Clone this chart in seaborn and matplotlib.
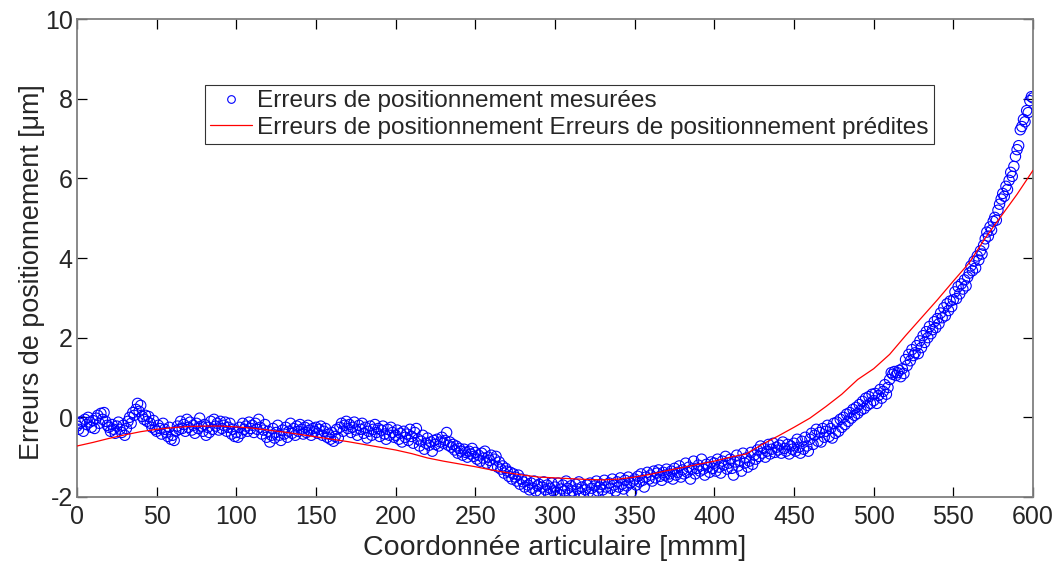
import numpy as np
import pandas as pd
import matplotlib
matplotlib.use("Agg")
import matplotlib.pyplot as plt
import seaborn as sns
from matplotlib.lines import Line2D

# ---- data -------------------------------------------------------------
x_mes_start, x_mes_step = 0, 1  # coordinate of measured points [mm]
y_mes_000 = [-0.22, -0.30, -0.15, -0.10, -0.35, -0.05, -0.18, 0.00, -0.12, -0.25,
             -0.08, -0.28, -0.02, 0.05, -0.15, 0.10, -0.05, 0.12, -0.10, -0.20,
             -0.25, -0.35, -0.18, -0.30, -0.40, -0.22, -0.12, -0.30, -0.38, -0.20,
             -0.45, -0.28, -0.10, 0.00, -0.15, 0.12, 0.05, 0.20, 0.35, 0.15,
             0.30, 0.02, -0.05, 0.05, -0.10, 0.02, -0.15, -0.25, -0.08, -0.30]
y_mes_050 = [-0.35, -0.20, -0.28, -0.42, -0.15, -0.30, -0.38, -0.48, -0.25, -0.55,
             -0.45, -0.58, -0.35, -0.22, -0.30, -0.10, -0.28, -0.18, -0.35, -0.05,
             -0.25, -0.12, -0.32, -0.20, -0.40, -0.15, -0.28, -0.02, -0.22, -0.35,
             -0.18, -0.45, -0.25, -0.38, -0.10, -0.30, -0.05, -0.22, -0.15, -0.32,
             -0.10, -0.28, -0.20, -0.12, -0.35, -0.25, -0.15, -0.42, -0.30, -0.48]
y_mes_100 = [-0.38, -0.50, -0.25, -0.40, -0.15, -0.30, -0.22, -0.35, -0.12, -0.28,
             -0.20, -0.38, -0.15, -0.30, -0.05, -0.25, -0.42, -0.32, -0.18, -0.50,
             -0.35, -0.62, -0.45, -0.28, -0.52, -0.38, -0.20, -0.45, -0.58, -0.32,
             -0.42, -0.25, -0.50, -0.35, -0.15, -0.40, -0.28, -0.45, -0.22, -0.35,
             -0.18, -0.30, -0.42, -0.25, -0.38, -0.20, -0.32, -0.45, -0.28, -0.35]
y_mes_150 = [-0.25, -0.40, -0.30, -0.22, -0.45, -0.35, -0.28, -0.50, -0.42, -0.55,
             -0.38, -0.60, -0.48, -0.30, -0.52, -0.25, -0.15, -0.35, -0.20, -0.10,
             -0.28, -0.18, -0.38, -0.25, -0.12, -0.32, -0.45, -0.20, -0.30, -0.15,
             -0.40, -0.25, -0.52, -0.35, -0.22, -0.45, -0.30, -0.18, -0.38, -0.28,
             -0.48, -0.32, -0.22, -0.42, -0.55, -0.30, -0.45, -0.25, -0.38, -0.50]
y_mes_200 = [-0.45, -0.32, -0.55, -0.40, -0.62, -0.35, -0.50, -0.42, -0.58, -0.30,
             -0.48, -0.65, -0.38, -0.28, -0.55, -0.72, -0.60, -0.45, -0.80, -0.65,
             -0.52, -0.70, -0.62, -0.85, -0.58, -0.68, -0.55, -0.72, -0.62, -0.50,
             -0.65, -0.58, -0.38, -0.70, -0.62, -0.75, -0.68, -0.82, -0.72, -0.90,
             -0.78, -0.85, -0.95, -0.80, -0.88, -1.00, -0.85, -0.92, -0.78, -0.98]
y_mes_250 = [-0.88, -1.05, -0.95, -1.10, -0.90, -1.02, -0.85, -1.15, -1.00, -1.08,
             -0.95, -1.20, -1.05, -0.98, -1.25, -1.12, -1.30, -1.22, -1.40, -1.28,
             -1.35, -1.48, -1.38, -1.55, -1.42, -1.50, -1.60, -1.45, -1.68, -1.55,
             -1.62, -1.75, -1.58, -1.70, -1.82, -1.65, -1.78, -1.60, -1.85, -1.72,
             -1.68, -1.90, -1.75, -1.62, -1.82, -1.70, -1.92, -1.78, -1.65, -1.85]
y_mes_300 = [-1.75, -1.88, -1.65, -1.95, -1.80, -1.70, -1.85, -1.60, -1.78, -1.92,
             -1.72, -1.85, -1.98, -1.68, -1.80, -1.62, -1.90, -1.75, -2.00, -1.82,
             -1.70, -1.88, -1.65, -1.78, -1.95, -1.72, -1.60, -1.85, -1.75, -1.68,
             -1.82, -1.58, -1.75, -1.90, -1.65, -1.78, -1.55, -1.70, -1.85, -1.62,
             -1.75, -1.52, -1.68, -1.80, -1.58, -1.72, -1.50, -1.65, -1.88, -1.60]
y_mes_350 = [-1.55, -1.70, -1.48, -1.62, -1.42, -1.58, -1.75, -1.50, -1.38, -1.55,
             -1.45, -1.60, -1.35, -1.52, -1.40, -1.32, -1.48, -1.58, -1.38, -1.45,
             -1.30, -1.50, -1.42, -1.35, -1.55, -1.28, -1.45, -1.38, -1.22, -1.50,
             -1.32, -1.42, -1.15, -1.38, -1.25, -1.55, -1.30, -1.10, -1.42, -1.28,
             -1.20, -1.35, -1.05, -1.30, -1.45, -1.18, -1.25, -1.38, -1.12, -1.28]
y_mes_400 = [-1.15, -1.35, -1.05, -1.25, -1.40, -1.10, -1.20, -0.98, -1.30, -1.15,
             -1.05, -1.28, -1.45, -1.12, -0.95, -1.22, -1.08, -1.35, -0.90, -1.15,
             -1.02, -1.25, -1.10, -0.88, -1.18, -0.95, -1.05, -0.82, -0.98, -0.72,
             -0.90, -0.78, -1.00, -0.85, -0.68, -0.92, -0.80, -0.65, -0.88, -0.75,
             -0.82, -0.70, -0.90, -0.62, -0.78, -0.85, -0.68, -0.92, -0.72, -0.80]
y_mes_450 = [-0.65, -0.85, -0.55, -0.75, -0.90, -0.60, -0.80, -0.50, -0.72, -0.85,
             -0.55, -0.40, -0.68, -0.45, -0.30, -0.60, -0.38, -0.62, -0.28, -0.50,
             -0.35, -0.20, -0.48, -0.28, -0.52, -0.15, -0.40, -0.12, -0.35, -0.05,
             -0.25, 0.00, -0.18, 0.08, -0.10, 0.12, -0.02, 0.20, 0.05, 0.25,
             0.10, 0.32, 0.18, 0.40, 0.22, 0.48, 0.30, 0.52, 0.35, 0.58]
y_mes_500 = [0.42, 0.60, 0.35, 0.55, 0.70, 0.48, 0.65, 0.82, 0.58, 0.75,
             0.95, 1.12, 1.08, 1.15, 1.05, 1.12, 1.18, 1.02, 1.22, 1.10,
             1.45, 1.30, 1.58, 1.42, 1.70, 1.55, 1.62, 1.80, 1.60, 1.92,
             1.75, 2.05, 1.88, 2.15, 2.00, 2.28, 2.10, 2.20, 2.40, 2.25,
             2.48, 2.35, 2.62, 2.50, 2.75, 2.55, 2.85, 2.68, 2.92, 2.78]
y_mes_550 = [2.95, 3.15, 2.98, 3.28, 3.10, 3.35, 3.22, 3.45, 3.30, 3.52,
             3.62, 3.80, 3.68, 3.92, 3.75, 4.05, 3.95, 4.18, 4.10, 4.32,
             4.48, 4.65, 4.55, 4.78, 4.70, 4.92, 5.02, 4.95, 5.20, 5.35,
             5.48, 5.62, 5.55, 5.80, 5.72, 5.95, 6.15, 6.05, 6.30, 6.55,
             6.72, 6.82, 7.22, 7.30, 7.48, 7.42, 7.70, 7.65, 7.95, 8.05]
y_mes_600 = [8.02]

x_pred = [0, 10, 20, 30, 40, 50, 60, 70, 80, 90,
          100, 110, 120, 130, 140, 150, 160, 170, 180, 190,
          200, 210, 220, 230, 240, 250, 260, 270, 280, 290,
          300, 310, 320, 330, 340, 350, 360, 370, 380, 390,
          400, 410, 420, 430, 440, 450, 460, 470, 480, 490,
          500, 510, 520, 530, 540, 550, 560, 570, 580, 590, 600]
y_pred = [-0.72, -0.63, -0.53, -0.44, -0.36, -0.30, -0.26, -0.23, -0.22, -0.22,
          -0.24, -0.27, -0.32, -0.37, -0.43, -0.49, -0.55, -0.61, -0.68, -0.75,
          -0.82, -0.91, -1.02, -1.10, -1.17, -1.24, -1.32, -1.39, -1.45, -1.50,
          -1.52, -1.54, -1.56, -1.57, -1.55, -1.50, -1.43, -1.34, -1.26, -1.18,
          -1.10, -1.00, -0.92, -0.68, -0.47, -0.25, -0.02, 0.27, 0.58, 0.95,
          1.22, 1.58, 2.05, 2.50, 2.95, 3.42, 3.88, 4.50, 5.05, 5.60, 6.20]

label_mes = "Erreurs de positionnement mesurées"
label_pred = "Erreurs de positionnement Erreurs de positionnement prédites"
xlabel = "Coordonnée articulaire [mmm]"
ylabel = "Erreurs de positionnement [μm]"
xticks = [0, 50, 100, 150, 200, 250, 300, 350, 400, 450, 500, 550, 600]
yticks = [-2, 0, 2, 4, 6, 8, 10]

# ---- build frames -------------------------------------------------------
y_mes = (y_mes_000 + y_mes_050 + y_mes_100 + y_mes_150 + y_mes_200 + y_mes_250 +
         y_mes_300 + y_mes_350 + y_mes_400 + y_mes_450 + y_mes_500 + y_mes_550 +
         y_mes_600)
x_mes = x_mes_start + x_mes_step * np.arange(len(y_mes))
df_mes = pd.DataFrame({"x": x_mes, "y": y_mes})
df_pred = pd.DataFrame({"x": x_pred, "y": y_pred})

sns.set_style("white")
plt.rcParams["font.family"] = ["Liberation Sans", "DejaVu Sans"]
plt.rcParams["axes.unicode_minus"] = False

fig = plt.figure(figsize=(10.56, 5.63), dpi=100)
ax = fig.add_axes([77 / 1056, 66 / 563, 956 / 1056, 478 / 563])

sns.scatterplot(data=df_mes, x="x", y="y", ax=ax, marker="o", s=55,
                facecolors="none", edgecolor="#0000ff", linewidth=0.8,
                label=label_mes, zorder=2)
sns.lineplot(data=df_pred, x="x", y="y", ax=ax, color="#ff0000", linewidth=0.9,
             label=label_pred, zorder=3)

ax.set_xlim(0, 600)
ax.set_ylim(-2, 10)
ax.set_xticks(xticks)
ax.set_yticks(yticks)
ax.tick_params(direction="in", length=7, width=0.9, color="black",
               top=True, right=True, bottom=True, left=True,
               labelsize=18)
ax.tick_params(axis="x", pad=6)
ax.tick_params(axis="y", pad=3)
for sp in ax.spines.values():
    sp.set_color("#808080")
    sp.set_linewidth(1.3)
ax.set_xlabel(xlabel, fontsize=20.5)
ax.set_ylabel(ylabel, fontsize=19.4)
ax.xaxis.set_label_coords(0.5, -0.107, transform=ax.transAxes)
ax.yaxis.set_label_coords(-0.047, 0.47, transform=ax.transAxes)
ax.xaxis.label.set_va("center")
ax.yaxis.label.set_va("center")

h_mes = Line2D([], [], linestyle="none", marker="o", markersize=5.5,
               markerfacecolor="none", markeredgecolor="#0000ff", markeredgewidth=0.8)
h_pred = Line2D([], [], color="#ff0000", linewidth=0.9)
leg = ax.legend([h_mes, h_pred], [label_mes, label_pred],
                loc="upper left", bbox_to_anchor=(0.134, 0.862),
                fontsize=17.6, frameon=True, fancybox=False, shadow=False,
                borderpad=0.22, labelspacing=0.18, handlelength=1.7,
                handletextpad=0.2, borderaxespad=0)
leg.get_frame().set_edgecolor("black")
leg.get_frame().set_linewidth(0.8)

fig.savefig("out.png", dpi=100)
